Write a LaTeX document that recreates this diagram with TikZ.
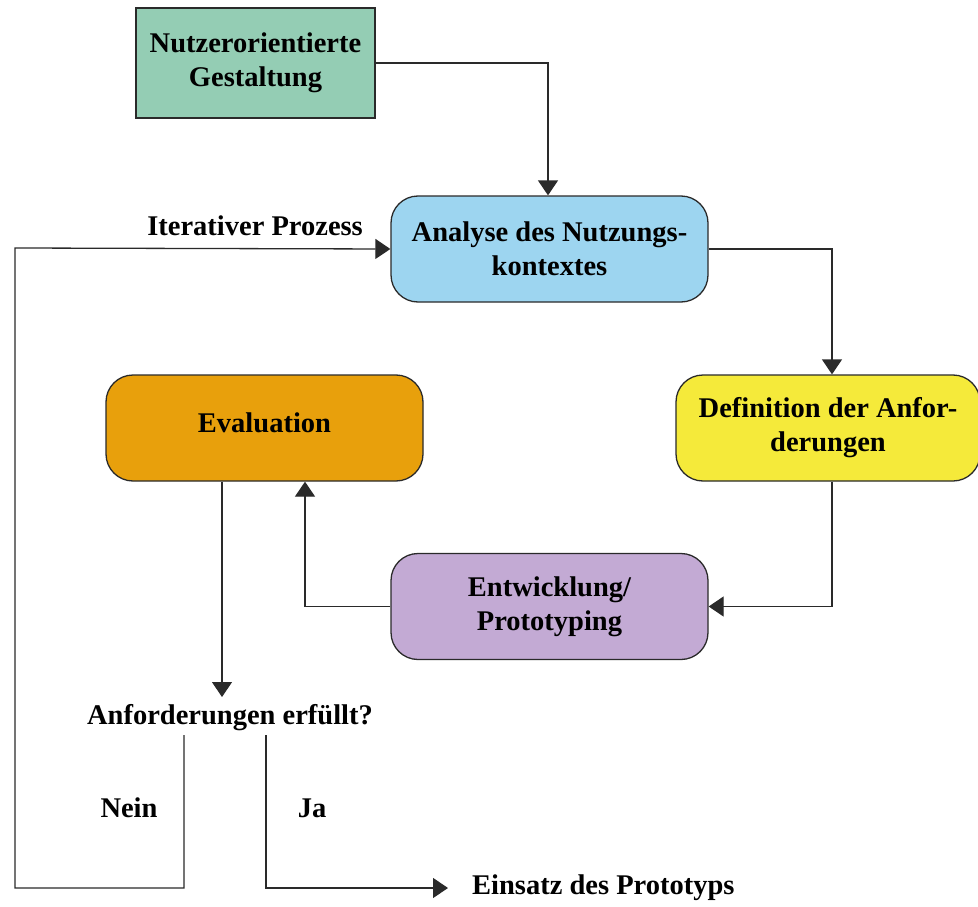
\documentclass[tikz,border=0pt]{standalone}
\usepackage{fontspec}
\setmainfont{Liberation Serif}
\usetikzlibrary{arrows.meta}
\definecolor{cgreen}{HTML}{94CDB4}
\definecolor{cblue}{HTML}{9DD5F0}
\definecolor{cyellow}{HTML}{F5EA3A}
\definecolor{corange}{HTML}{E8A00C}
\definecolor{cpurple}{HTML}{C3AAD4}
\definecolor{cline}{HTML}{2A2A2A}
\tikzset{
  x=1pt,y=-1pt,
  box/.style={draw=cline,line width=1.3pt,minimum width=#1,align=center,font=\bfseries\fontsize{28.5}{34}\selectfont,inner sep=0pt},
  rbox/.style={box=317pt,minimum height=106pt,rounded corners=27pt},
  lbl/.style={font=\bfseries\fontsize{28.5}{34}\selectfont,inner sep=0pt},
  conn/.style={draw=cline,line width=1.3pt},
  arr/.style={conn,-{Triangle[length=15pt,width=20pt]}},
}
\begin{document}
\begin{tikzpicture}
\useasboundingbox (0,0) rectangle (978,907);
\node[box=239pt,minimum height=110pt,fill=cgreen] (g) at (255.5,63) {Nutzerorientierte\\Gestaltung};
\node[rbox,fill=cblue] (a) at (549.5,249) {Analyse des Nutzungs-\\kontextes};
\node[rbox,fill=cyellow,minimum width=304pt] (d) at (828,428) {Definition der Anfor-\\derungen};
\node[rbox,fill=corange] (e) at (264.5,428) {};
\node[lbl] (et) at (264.5,423) {Evaluation};
\node[rbox,fill=cpurple] (p) at (549.5,606.5) {Entwicklung/\\Prototyping};
\node[lbl] (q) at (230,718) {Anforderungen erfüllt?};
\node[lbl,anchor=east] (it) at (363,226) {Iterativer Prozess};
\node[lbl] (nein) at (129,808) {Nein};
\node[lbl] (ja) at (312,808) {Ja};
\node[lbl,anchor=west] (ein) at (472,888) {Einsatz des Prototyps};
\coordinate (qn) at (184,735);
\coordinate (qj) at (266,735);
\coordinate (qin) at (222,697);
\coordinate (einarr) at (448,888);
\draw[arr] (g.east) -| (a.north -| 548,0);
\draw[arr] (a.east) -| (d.north -| 832,0);
\draw[arr] (d.south -| 832,0) |- (p.east);
\draw[arr] (p.west) -| (e.south -| 305,0);
\draw[arr] (e.south -| 222,0) -- (qin);
\draw[arr] (qn) -- (184,888) -- (15,888) -- (15,248) -- (a.west);
\draw[arr] (qj) -- (266,888) -- (einarr);
\end{tikzpicture}
\end{document}
